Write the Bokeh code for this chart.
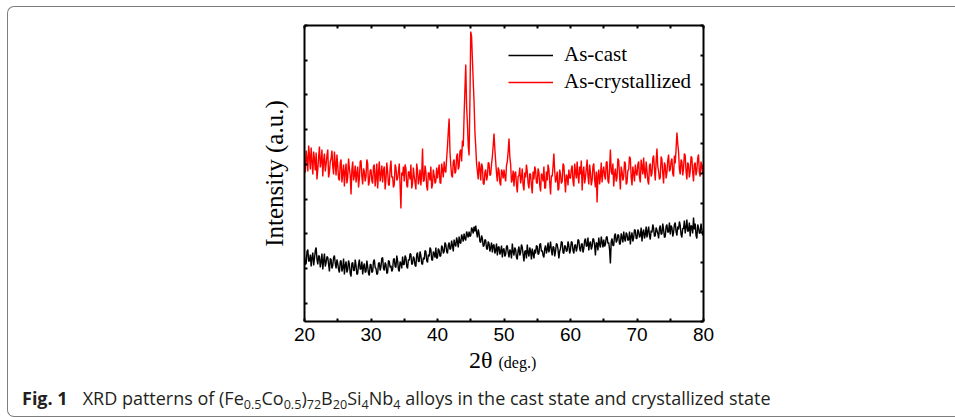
import numpy as np
from bokeh.plotting import figure
from bokeh.layouts import column
from bokeh.models import (FixedTicker, LinearAxis, Range1d, Legend, LegendItem, Div,
                          InlineStyleSheet)
from bokeh.embed import file_html
from bokeh.resources import INLINE

# ---------------- data (arbitrary intensity units) -------------
two_theta_min = 20
two_theta_max = 80

as_crystallized = [
    158, 149, 171, 163, 150, 176, 166, 152, 174, 160, 147, 170, 162, 151, 169, 142, 152, 165, 175, 154,
    160, 172, 145, 161, 168, 150, 157, 166, 172, 144, 149, 160, 163, 171, 155, 147, 170, 158, 146, 167,
    156, 143, 141, 159, 162, 139, 148, 157, 135, 150, 158, 138, 144, 163, 153, 146, 127, 152, 160, 141,
    146, 156, 139, 148, 155, 134, 143, 160, 161, 145, 137, 153, 150, 140, 145, 162, 158, 136, 140, 151,
    152, 141, 138, 155, 157, 135, 144, 158, 133, 149, 160, 140, 147, 156, 139, 151, 155, 132, 142, 159,
    150, 137, 136, 153, 161, 144, 145, 134, 137, 157, 154, 141, 143, 150, 158, 136, 113, 149, 146, 155,
    140, 157, 153, 136, 134, 150, 149, 142, 157, 133, 138, 154, 145, 139, 132, 158, 151, 137, 143, 152,
    136, 147, 173, 140, 141, 156, 150, 135, 131, 149, 148, 141, 155, 133, 137, 152, 146, 138, 140, 154,
    143, 150, 157, 139, 138, 158, 152, 144, 160, 151, 149, 163, 175, 190, 203, 170, 156, 146, 144, 160,
    162, 148, 150, 165, 168, 152, 155, 170, 172, 160, 181, 175, 206, 232, 257, 215, 198, 175, 166, 220,
    290, 285, 262, 240, 219, 190, 175, 158, 150, 142, 160, 153, 141, 158, 155, 138, 137, 149, 152, 141,
    145, 159, 158, 146, 147, 157, 165, 176, 188, 172, 160, 148, 140, 154, 151, 139, 136, 152, 149, 143,
    152, 145, 140, 156, 160, 170, 183, 165, 157, 139, 142, 151, 135, 148, 150, 137, 129, 145, 146, 154,
    138, 144, 153, 136, 131, 149, 144, 157, 150, 138, 133, 148, 147, 136, 128, 150, 142, 155, 151, 139,
    138, 153, 149, 136, 130, 148, 146, 140, 155, 133, 134, 150, 141, 157, 152, 139, 127, 146, 145, 155,
    168, 150, 139, 143, 150, 131, 133, 152, 147, 138, 140, 158, 156, 142, 129, 147, 145, 136, 152, 144,
    143, 152, 156, 140, 135, 158, 150, 143, 160, 146, 138, 155, 147, 161, 131, 149, 155, 138, 144, 153,
    162, 145, 137, 157, 149, 136, 141, 155, 158, 142, 134, 150, 119, 146, 152, 137, 145, 159, 139, 150,
    155, 146, 142, 159, 160, 141, 138, 153, 172, 150, 147, 158, 135, 147, 153, 140, 144, 163, 161, 146,
    132, 155, 150, 141, 145, 160, 158, 137, 139, 151, 152, 165, 163, 144, 136, 155, 148, 140, 157, 149,
    146, 157, 160, 144, 139, 162, 155, 147, 164, 150, 143, 160, 151, 141, 137, 156, 158, 145, 148, 163,
    166, 152, 141, 160, 173, 155, 150, 142, 144, 165, 162, 148, 138, 159, 156, 143, 149, 161, 167, 150,
    152, 160, 163, 148, 145, 166, 158, 172, 189, 178, 170, 152, 147, 162, 160, 146, 153, 168, 166, 150,
    142, 159, 157, 144, 150, 165, 164, 149, 140, 157, 159, 146, 151, 163, 167, 149, 145, 160, 155, 148,
    158,
]

as_cast = [
    66, 57, 58, 70, 72, 60, 61, 67, 55, 64, 69, 56, 63, 71, 74, 62, 57, 66, 65, 54,
    60, 68, 52, 61, 68, 55, 59, 65, 64, 57, 50, 63, 62, 53, 56, 64, 66, 58, 53, 62,
    58, 52, 49, 60, 61, 50, 54, 63, 47, 56, 60, 49, 52, 61, 57, 48, 45, 58, 59, 51,
    51, 62, 56, 47, 48, 57, 62, 52, 53, 60, 47, 55, 58, 49, 50, 61, 55, 48, 46, 57,
    57, 49, 50, 60, 62, 54, 53, 47, 48, 58, 59, 51, 55, 63, 64, 53, 51, 59, 57, 48,
    49, 61, 60, 54, 56, 50, 52, 62, 63, 55, 54, 66, 61, 52, 50, 60, 58, 53, 65, 57,
    57, 66, 64, 55, 53, 62, 61, 68, 67, 57, 58, 65, 63, 56, 55, 67, 69, 60, 60, 70,
    66, 58, 57, 64, 62, 71, 70, 61, 59, 67, 65, 74, 72, 62, 61, 70, 68, 64, 74, 63,
    64, 73, 71, 65, 66, 76, 74, 68, 70, 79, 77, 70, 68, 76, 79, 72, 73, 81, 76, 70,
    82, 77, 75, 84, 80, 74, 85, 79, 78, 87, 84, 80, 88, 83, 81, 90, 87, 84, 90, 85,
    86, 94, 92, 88, 95, 90, 96, 89, 84, 92, 88, 80, 79, 86, 83, 75, 76, 82, 81, 73,
    72, 80, 78, 70, 74, 79, 69, 76, 77, 68, 71, 78, 66, 74, 75, 67, 70, 76, 64, 72,
    73, 65, 67, 75, 76, 69, 64, 72, 70, 63, 78, 70, 66, 74, 72, 64, 62, 71, 75, 66,
    69, 77, 74, 67, 60, 70, 71, 63, 77, 69, 65, 74, 70, 62, 73, 68, 63, 72, 68, 76,
    75, 67, 68, 77, 78, 70, 71, 66, 64, 73, 76, 68, 72, 79, 69, 74, 80, 71, 66, 75,
    74, 65, 70, 78, 77, 72, 63, 70, 73, 80, 79, 69, 68, 76, 75, 70, 71, 80, 76, 68,
    72, 80, 79, 71, 68, 76, 77, 70, 74, 82, 81, 73, 70, 77, 78, 69, 73, 81, 83, 75,
    76, 84, 71, 78, 80, 72, 75, 83, 82, 76, 66, 79, 78, 71, 84, 77, 74, 85, 80, 74,
    82, 75, 77, 84, 85, 78, 79, 72, 58, 80, 83, 76, 76, 86, 88, 79, 81, 87, 86, 77,
    78, 88, 84, 79, 90, 83, 80, 89, 87, 81, 82, 90, 77, 85, 89, 80, 84, 92, 91, 83,
    83, 92, 90, 84, 86, 94, 80, 89, 92, 83, 87, 95, 84, 90, 95, 86, 82, 91, 89, 97,
    93, 85, 86, 94, 91, 88, 83, 93, 96, 87, 88, 98, 92, 84, 85, 95, 97, 89, 90, 99,
    87, 96, 94, 85, 89, 97, 99, 90, 86, 95, 92, 100, 96, 87, 84, 93, 93, 101, 88, 94,
    102, 90, 91, 99, 85, 96, 95, 88, 104, 92, 98, 86, 83, 97, 94, 88, 89, 98, 92, 86,
    90,
]

x_major_ticks = [20, 30, 40, 50, 60, 70, 80]
x_minor_ticks = [25, 35, 45, 55, 65, 75]
y_left_ticks = [18.4, 53.1, 87.8, 122.5, 157.2, 191.9, 226.6, 261.3, 296.0]
y_right_ticks = [0, 29.6, 59.2, 88.8, 118.4, 148.0, 177.6, 207.2, 236.8, 266.4, 296.0]
y_max = 296

series_labels = ["As-cast", "As-crystallized"]
series_colors = ["#000000", "#ff0000"]

two_theta_cast = np.linspace(two_theta_min, two_theta_max, len(as_cast))
two_theta_cryst = np.linspace(two_theta_min, two_theta_max, len(as_crystallized))

# ---------------- figure ----------------
W = 955
FIG_H = 350
DIV_H = 67
p = figure(width=W, height=FIG_H, output_backend="svg", toolbar_location=None,
           x_range=Range1d(two_theta_min, two_theta_max), y_range=Range1d(0, y_max),
           min_border_left=304, min_border_right=252, min_border_top=25,
           min_border_bottom=FIG_H - 321)
p.grid.visible = False
p.outline_line_color = None
p.background_fill_color = "white"
p.border_fill_color = "white"


def style_axis(ax):
    ax.axis_line_width = 2
    ax.axis_line_color = "black"
    ax.major_tick_line_width = 2
    ax.minor_tick_line_width = 2
    ax.major_tick_in = 3
    ax.major_tick_out = 0
    ax.minor_tick_in = 3
    ax.minor_tick_out = 0


xb = p.xaxis[0]
xb.ticker = FixedTicker(ticks=x_major_ticks, minor_ticks=x_minor_ticks)
style_axis(xb)
xb.major_label_text_font = "Liberation Sans"
xb.major_label_text_font_size = "19px"
xb.major_label_text_color = "black"
xb.major_label_standoff = 6

xt = LinearAxis(ticker=FixedTicker(ticks=x_major_ticks, minor_ticks=x_minor_ticks))
style_axis(xt)
xt.major_label_text_font_size = "0px"
xt.major_label_overrides = {t: "" for t in x_major_ticks}
p.add_layout(xt, "above")

yl = p.yaxis[0]
yl.ticker = FixedTicker(ticks=y_left_ticks, minor_ticks=[])
style_axis(yl)
yl.major_label_overrides = {t: "" for t in y_left_ticks}
yl.major_label_text_font_size = "0px"
yl.axis_label = "Intensity (a.u.)"
yl.axis_label_text_font = "Liberation Serif"
yl.axis_label_text_font_size = "25px"
yl.axis_label_text_font_style = "normal"
yl.axis_label_text_color = "black"
yl.axis_label_standoff = 17

yr = LinearAxis(ticker=FixedTicker(ticks=y_right_ticks, minor_ticks=[]))
style_axis(yr)
yr.major_label_overrides = {t: "" for t in y_right_ticks}
yr.major_label_text_font_size = "0px"
p.add_layout(yr, "right")

r_cast = p.line(two_theta_cast, as_cast, line_color=series_colors[0], line_width=1.4)
r_cryst = p.line(two_theta_cryst, as_crystallized, line_color=series_colors[1], line_width=1.4)

legend = Legend(items=[LegendItem(label=series_labels[0], renderers=[r_cast]),
                       LegendItem(label=series_labels[1], renderers=[r_cryst])],
                location=(204, 227), padding=0, margin=0, spacing=2,
                glyph_width=45, glyph_height=20, label_height=20, label_standoff=11,
                border_line_color=None, background_fill_alpha=0,
                label_text_font="Liberation Serif", label_text_font_size="21px",
                label_text_color="black")
p.add_layout(legend)

# ---------------- x title + caption (HTML, below the figure) ----------------
sub = "<sub style='font-size:12.6px;vertical-align:-4px;line-height:0'>{}</sub>"
caption_html = (
    "<b>Fig. 1</b><span style='margin-left:15px'>XRD patterns of (Fe" + sub.format("0.5")
    + "Co" + sub.format("0.5") + ")" + sub.format("72") + "B" + sub.format("20")
    + "Si" + sub.format("4") + "Nb" + sub.format("4")
    + " alloys in the cast state and crystallized state</span>"
)
html = (
    f"<div style='position:relative;width:{W}px;height:{DIV_H}px;'>"
    "<div style=\"position:absolute;left:469px;top:-2px;white-space:nowrap;"
    "font-family:'Liberation Serif';font-size:24px;line-height:24px;color:#000;\">"
    "2θ <span style='font-size:16px'>(deg.)</span></div>"
    "<div style=\"position:absolute;left:22px;top:39px;white-space:nowrap;"
    "font-family:'Open Sans';font-size:18px;line-height:18px;color:#231f20;\">"
    + caption_html + "</div></div>"
)
div = Div(text=html, width=W, height=DIV_H, margin=0)

card_css = InlineStyleSheet(css="""
:host::after {
  content: "";
  position: absolute;
  left: 7px; top: 6px; right: 0px; bottom: 0px;
  border-left: 1.5px solid #7d7d7d;
  border-top: 1.5px solid #7d7d7d;
  border-bottom: 1.5px solid #7d7d7d;
  border-top-left-radius: 7px;
  border-bottom-left-radius: 7px;
  pointer-events: none;
}
""")
layout = column(p, div, spacing=0, stylesheets=[card_css])

open("out.html", "w").write(file_html(layout, INLINE))
